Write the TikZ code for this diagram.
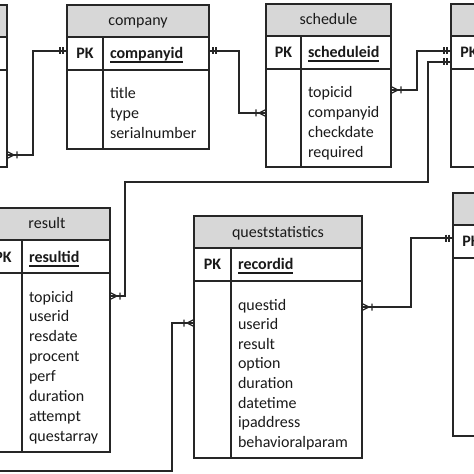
\documentclass[tikz,border=0pt]{standalone}
\usepackage{fontspec}
\setmainfont{Carlito}
\definecolor{lc}{HTML}{262626}
\definecolor{hd}{HTML}{D7D7D7}
\definecolor{tc}{HTML}{1A1A1A}
\tikzset{
  frame/.style={draw=lc, line width=1.3bp},
  box/.style={frame, rectangle, inner sep=0pt, outer sep=0pt, anchor=north west},
  hdr/.style={fill=hd},
  txt/.style={inner sep=0pt, outer sep=0pt, text=tc, font=\fontsize{16bp}{20bp}\selectfont},
  ttl/.style={txt, anchor=base},
  pkt/.style={txt, anchor=base, font=\fontsize{16bp}{20bp}\selectfont\bfseries},
  keyt/.style={txt, anchor=base west, font=\fontsize{16bp}{20bp}\selectfont\bfseries},
  fld/.style={txt, anchor=base west},
  uline/.style={draw=tc, line width=1.5bp},
  conn/.style={draw=lc, line width=1.3bp},
}
% entity frame: name, L, R, D, T, B
\newcommand\entity[6]{%
  \pgfmathsetmacro\hA{#5+32}\pgfmathsetmacro\hB{#5+65}%
  \fill[hdr] (#2,#5) rectangle (#3,\hA);
  \node[box, minimum width={((#3)-(#2))*1bp}, minimum height={((#6)-(#5))*1bp}] (#1) at (#2,#5) {};
  \draw[frame] (#2,\hA) -- (#3,\hA) (#2,\hB) -- (#3,\hB) (#4,\hA) -- (#4,#6);
}
% key text + underline: name, x, baseline y, text
\newcommand\keytext[4]{%
  \node[keyt] (#1-k) at (#2,#3) {#4};
  \draw[uline] ([yshift=-3.5bp]#1-k.base west) -- ([yshift=-3.5bp]#1-k.base east);
}
% many (crow foot + bar) end: x, y, direction
\newcommand\manyend[3]{%
  \begin{scope}[shift={(#1,#2)}, xscale=#3]
    \draw[conn] (0,-3.5) -- (7,0) -- (0,3.5) (0,0) -- (7,0) (10,-3.5) -- (10,3.5);
  \end{scope}}
% one-and-only-one end: x, y, direction
\newcommand\oneend[3]{%
  \begin{scope}[shift={(#1,#2)}, xscale=#3]
    \draw[conn] (4,-3.5) -- (4,3.5) (7,-3.5) -- (7,3.5);
  \end{scope}}
\begin{document}
\begin{tikzpicture}[x=1bp, y=-1bp]
\useasboundingbox (0,0) rectangle (474,474);
\fill[white] (0,0) rectangle (474,474);
\clip (0,0) rectangle (474,474);

% ---------- entities ----------
\entity{lefttop}{-130}{7}{-100}{5}{167}

\entity{company}{67}{209}{103}{5}{149}
\node[ttl] (company-t) at (138,26) {company};
\node[pkt] (company-pk) at (85,58.5) {PK};
\keytext{company}{110}{58.5}{companyid}
\foreach \f [count=\i from 0] in {title,type,serialnumber}
  \node[fld] (company-f\i) at (110,99+20*\i) {\f};

\entity{schedule}{266}{391}{301}{4}{167}
\node[ttl] (schedule-t) at (328.5,25) {schedule};
\node[pkt] (schedule-pk) at (283.5,57.5) {PK};
\keytext{schedule}{308}{57.5}{scheduleid}
\foreach \f [count=\i from 0] in {topicid,companyid,checkdate,required}
  \node[fld] (schedule-f\i) at (308,98+20*\i) {\f};

\entity{righttop}{451}{600}{487}{4}{167}
\node[pkt] (righttop-pk) at (469,57.5) {PK};

\entity{result}{-16}{110}{22}{208}{452}
\node[ttl] (result-t) at (47,229) {result};
\node[pkt] (result-pk) at (3,262.5) {PK};
\keytext{result}{29}{262.5}{resultid}
\foreach \f [count=\i from 0] in {topicid,userid,resdate,procent,perf,duration,attempt,questarray}
  \node[fld] (result-f\i) at (29,302+19.9*\i) {\f};

\entity{qs}{194}{362}{231}{216}{458}
\node[ttl] (qs-t) at (278,237) {queststatistics};
\node[pkt] (qs-pk) at (212.5,269.5) {PK};
\keytext{qs}{238}{269.5}{recordid}
\foreach \f [count=\i from 0] in {questid,userid,result,option,duration,datetime,ipaddress,behavioralparam}
  \node[fld] (qs-f\i) at (238,310+19.6*\i) {\f};

\entity{bottomright}{453}{600}{489}{193}{436}
\node[pkt] (bottomright-pk) at (471,246.5) {PK};

% ---------- connectors ----------
\coordinate (loose) at (-10,471);

\draw[conn] (lefttop.east |- 0,155) -- (33,155) -- (33,51) -- (company.west |- 0,51);
\manyend{7}{155}{1}
\oneend{67}{51}{-1}

\draw[conn] (company.east |- 0,51) -- (239,51) -- (239,113) -- (schedule.west |- 0,113);
\oneend{209}{51}{1}
\manyend{266}{113}{-1}

\draw[conn] (schedule.east |- 0,90) -- (417,90) -- (417,51) -- (righttop.west |- 0,51);
\manyend{391}{90}{1}
\oneend{451}{51}{-1}

\draw[conn] (righttop.west |- 0,62) -- (428,62) -- (428,182) -- (125,182) -- (125,296) -- (result.east |- 0,296);
\oneend{451}{62}{-1}
\manyend{110}{296}{1}

\draw[conn] (loose) -- (172,471) -- (172,323) -- (qs.west |- 0,323);
\manyend{194}{323}{-1}

\draw[conn] (qs.east |- 0,307) -- (411,307) -- (411,238) -- (bottomright.west |- 0,238);
\manyend{362}{307}{1}
\oneend{453}{238}{-1}
\end{tikzpicture}
\end{document}
